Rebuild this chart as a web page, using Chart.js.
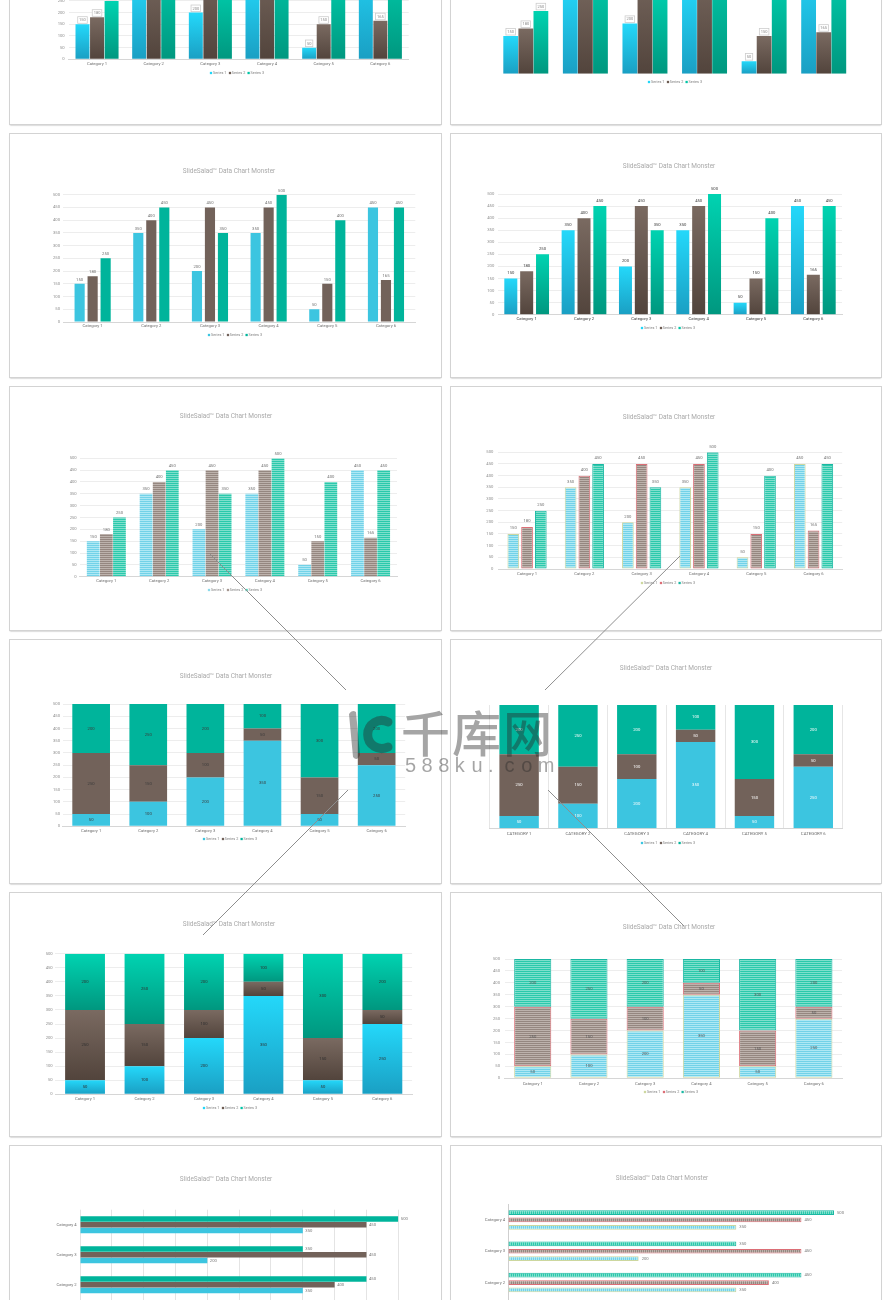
<!DOCTYPE html>
<html><head><meta charset="utf-8">
<script src="https://cdn.jsdelivr.net/npm/chart.js@4.4.1/dist/chart.umd.min.js"></script>
<style>
html,body{margin:0;padding:0;background:#fff}
body{width:892px;height:1300px;overflow:hidden;position:relative;font-family:Roboto,"Liberation Sans",sans-serif}
.panel{position:absolute;background:#fff;box-shadow:0 0 0 1px #d3d3d3,0 1.5px 1.5px rgba(0,0,0,.32)}
.panel canvas{position:absolute;left:0;top:0}
</style></head><body>
<script>
// ---------------- data ----------------
const categories = ['Category 1','Category 2','Category 3','Category 4','Category 5','Category 6'];
const seriesNames = ['Series 1','Series 2','Series 3'];
const series1 = [150, 350, 200, 350, 50, 450];
const series2 = [180, 400, 450, 450, 150, 165];
const series3 = [250, 450, 350, 500, 400, 450];
const stacked1 = [50, 100, 200, 350, 50, 250];
const stacked2 = [250, 150, 100, 50, 150, 50];
const stacked3 = [200, 250, 200, 100, 300, 200];
const hCategories = ['Category 1','Category 2','Category 3','Category 4'];
const hSeries1 = [150, 350, 200, 350];
const hSeries2 = [180, 400, 450, 450];
const hSeries3 = [250, 450, 350, 500];
const valueMin = 0, valueMax = 500, valueStep = 50;
const titleText = 'SlideSalad\u2122 Data Chart Monster';

// ---------------- styles ----------------
const FONT = 'Roboto, "Liberation Sans", sans-serif';
Chart.defaults.font.family = FONT;
const H = 243;
const flatCols = ['#3cc5e0','#72625a','#00b49b'];
const gradCols = [['#24d8fa','#1a9fc3'],['#7a6a61','#52443c'],['#00d3b1','#00977f']];
const stripeCols = [['#72d2e8','#aee8f4'],['#958780','#bdb2ac'],['#2bc9ac','#7fdfcc']];
const borderCols = ['#cdd79f','#dc6e76','#1ab7a2'];
const legFlat = flatCols, legGrad = ['#22d6f8','#6d5c53','#00c4a5'], legStripe = ['#8bd9ea','#a5968f','#4fd4bb'];

function stripe(c1, c2, dir){
  const cv = document.createElement('canvas');
  cv.width = dir==='h' ? 4 : 2; cv.height = dir==='h' ? 2 : 4;
  const x = cv.getContext('2d');
  x.fillStyle = c1; x.fillRect(0,0,cv.width,cv.height);
  x.fillStyle = c2; if(dir==='h') x.fillRect(0,1,4,1); else x.fillRect(1,0,1,4);
  return x.createPattern(cv,'repeat');
}
function vGrad(top, bot, k, data, stacked){
  return (ctx)=>{
    const ch = ctx.chart;
    if(ctx.type!=='data' || !ch.chartArea) return top;
    const i = ctx.dataIndex;
    let s0 = 0;
    if(stacked) for(let j=0;j<k;j++) s0 += data[j][i];
    const s1 = s0 + data[k][i];
    const ys = ch.scales.y;
    const y1 = ys.getPixelForValue(s1), y0 = ys.getPixelForValue(s0);
    if(!isFinite(y1)||!isFinite(y0)||y1===y0) return top;
    const g = ch.ctx.createLinearGradient(0,y1,0,y0);
    g.addColorStop(0,top); g.addColorStop(1,bot);
    return g;
  };
}
function labelPlugin(o){
  return {id:'vl', afterDatasetsDraw(chart){
    const c = chart.ctx; c.save();
    c.font = (o.size||4.2)+'px '+FONT;
    chart.data.datasets.forEach((ds,di)=>{
      chart.getDatasetMeta(di).data.forEach((el,i)=>{
        const t = String(ds.data[i]);
        c.fillStyle = o.color;
        if(o.mode==='top'){ c.textAlign='center'; c.textBaseline='middle'; c.fillText(t, el.x, el.y-o.off); }
        else if(o.mode==='center'){ c.textAlign='center'; c.textBaseline='middle'; c.fillText(t, el.x, (el.y+el.base)/2); }
        else if(o.mode==='end'){ c.textAlign='left'; c.textBaseline='middle'; c.fillText(t, el.x+o.off, el.y); }
        else if(o.mode==='box'){
          const w = c.measureText(t).width+2.8, h = 6.6;
          const bx = el.x-w/2, by = el.y-o.off-h;
          c.fillStyle='#fff'; c.fillRect(bx,by,w,h);
          c.strokeStyle='#cdcdcd'; c.lineWidth=0.8; c.strokeRect(bx,by,w,h);
          c.fillStyle=o.color; c.textAlign='center'; c.textBaseline='middle'; c.fillText(t, el.x, by+h/2+0.2);
        }
      });
    });
    c.restore();
  }};
}
function addText(parent, txt, cx, cy, px, color){
  const d = document.createElement('div');
  d.textContent = txt;
  d.style.cssText = `position:absolute;left:${cx}px;top:${cy}px;font-size:10px;line-height:10px;color:${color};white-space:nowrap;transform:translate(-50%,-50%) scale(${px/10});`;
  parent.appendChild(d);
}
function addLegend(parent, cx, cy, cols){
  const d = document.createElement('div');
  d.style.cssText = `position:absolute;left:${cx}px;top:${cy}px;font-size:10px;line-height:10px;color:#7d7d7d;white-space:nowrap;display:flex;align-items:center;transform:translate(-50%,-50%) scale(0.38);`;
  seriesNames.forEach((n,i)=>{
    const it = document.createElement('span'); it.style.cssText='display:flex;align-items:center;margin:0 3px';
    const m = document.createElement('span'); m.style.cssText=`display:inline-block;width:6px;height:6px;background:${cols[i]};margin-right:2px`;
    it.appendChild(m); it.appendChild(document.createTextNode(n)); d.appendChild(it);
  });
  parent.appendChild(d);
}
function makeChart(s){
  const p = document.createElement('div'); p.className='panel';
  p.style.cssText = `left:${s.x}px;top:${s.y}px;width:${s.w}px;height:${H}px`;
  document.body.appendChild(p);
  const cv = document.createElement('canvas'); cv.width=s.w; cv.height=H; cv.style.width=s.w+'px'; cv.style.height=H+'px';
  p.appendChild(cv);
  if(s.title) addText(p, titleText, s.title[0], s.title[1], 6.5, '#a9a9a9');
  if(s.legend) addLegend(p, s.legend[0], s.legend[1], s.legendCols);
  const horiz = !!s.horizontal;
  const [l,t,r,b] = s.plot;
  const leftShown = s.leftAxis!==false, bottomShown = s.bottomAxis!==false;
  const yW = leftShown ? (horiz ? 40 : 14) : 0, xH = bottomShown ? 10 : 0;
  const padding = {left:l-yW, top:t, right:s.w-r, bottom:H-b-xH};
  const data = s.stacked ? [stacked1,stacked2,stacked3] : (horiz ? [hSeries1,hSeries2,hSeries3] : [series1,series2,series3]);
  const order = horiz ? [2,1,0] : [0,1,2];
  const datasets = order.map(k=>{
    const ds = {label:seriesNames[k], data:data[k], categoryPercentage:s.cp, barPercentage:s.bp, borderWidth:0, borderSkipped:false};
    if(s.fill==='flat') ds.backgroundColor = flatCols[k];
    else if(s.fill==='grad') ds.backgroundColor = vGrad(gradCols[k][0], gradCols[k][1], k, data, !!s.stacked);
    else { ds.backgroundColor = stripe(stripeCols[k][0], stripeCols[k][1], s.fill==='hstripe'?'h':'v'); }
    if(s.bordered){ ds.borderColor = borderCols[k]; ds.borderWidth = 1; }
    return ds;
  });
  const valueAxis = {
    display: horiz ? bottomShown : leftShown,
    min:valueMin, max:valueMax, stacked:!!s.stacked,
    ticks:{stepSize:valueStep, font:{size:4.2}, color:'#8c8c8c', padding:s.valPad||3},
    grid:{display:!!s.valGrid, color:s.gridColor||'#ededed', lineWidth:1, drawTicks:false},
    border:{display:false}
  };
  const catAxis = {
    display: horiz ? leftShown : bottomShown,
    stacked:!!s.stacked, offset:true,
    ticks:{font:{size:s.catSize||4.2}, color:s.catColor||'#6f6f6f', padding:s.catPad||2, autoSkip:false, maxRotation:0,
      callback: function(v){ const lb = this.getLabelForValue(v); return s.upper ? lb.toUpperCase() : lb; }},
    grid:{display:!!s.catGrid, color:'#e6e6e6', drawTicks:false, offset:true},
    border:{display:s.catBorder!==false, color:s.borderColor||'#d6d6d6', width:1}
  };
  let scales;
  if(horiz){
    catAxis.reverse = true;
    if(leftShown) catAxis.afterFit = sc=>{ sc.width = yW; };
    if(bottomShown) valueAxis.afterFit = sc=>{ sc.height = xH; };
    scales = {x:valueAxis, y:catAxis};
  } else {
    if(leftShown) valueAxis.afterFit = sc=>{ sc.width = yW; };
    if(bottomShown) catAxis.afterFit = sc=>{ sc.height = xH; };
    scales = {x:catAxis, y:valueAxis};
  }
  new Chart(cv, {
    type:'bar',
    data:{labels: horiz ? hCategories : categories, datasets},
    options:{
      indexAxis: horiz ? 'y' : 'x',
      responsive:false, animation:false, devicePixelRatio:1,
      layout:{padding},
      plugins:{legend:{display:false}, title:{display:false}, tooltip:{enabled:false}},
      scales
    },
    plugins:[labelPlugin(s.labels)]
  });
}

const LX=10, LW=431, RX=451, RW=430;
const specs = [
  {x:LX,y:-119,w:LW, plot:[58.7,61.6,398.7,178.3], valPad:4, catPad:2.2, cp:0.77, bp:0.96, fill:'grad', valGrid:true,
   labels:{mode:'box',off:1,color:'#8a8a8a',size:4}, legend:[227,191.7], legendCols:legGrad},
  {x:RX,y:-119,w:RW, plot:[45,67.1,402.5,192.7], leftAxis:false, bottomAxis:false, cp:0.76, bp:0.98, fill:'grad',
   labels:{mode:'box',off:1,color:'#8a8a8a',size:4}, legend:[224,201.3], legendCols:legGrad},
  {x:LX,y:134,w:LW, plot:[53.3,60.7,405.3,188], valPad:3.3, catPad:1.8, cp:0.665, bp:0.78, fill:'flat', valGrid:true,
   labels:{mode:'top',off:4,color:'#707070'}, legend:[225,201.3], legendCols:legFlat, title:[219,37.3]},
  {x:RX,y:134,w:RW, plot:[47,60,391,180.7], valPad:3.7, catPad:2.1, catColor:'#3a3a3a', cp:0.83, bp:0.82, fill:'grad', valGrid:true,
   labels:{mode:'top',off:5.3,color:'#3a3a3a'}, legend:[217,194], legendCols:legGrad, title:[218,31.7]},
  {x:LX,y:387,w:LW, plot:[69.9,71.3,387,189.7], valPad:3.2, catPad:1.8, cp:0.745, bp:0.97, fill:'hstripe', valGrid:true,
   labels:{mode:'top',off:4.6,color:'#707070'}, legend:[225,203], legendCols:legStripe, title:[215.7,29]},
  {x:RX,y:387,w:RW, plot:[47.4,65.3,391.2,182], valPad:5, catPad:2.2, cp:0.72, bp:0.85, fill:'hstripe', bordered:true, valGrid:true,
   labels:{mode:'top',off:5.7,color:'#707070'}, legend:[216.7,195.7], legendCols:borderCols, title:[218,29.7]},
  {x:LX,y:640,w:LW, plot:[52.6,64,395.2,186.3], valPad:2.6, catPad:2.2, stacked:true, cp:0.66, bp:1, fill:'flat', valGrid:true,
   labels:{mode:'center',color:'#3b3b3b'}, legend:[220,199.3], legendCols:legFlat, title:[215.7,35.7]},
  {x:RX,y:640,w:RW, plot:[38.7,65,391.7,188.3], leftAxis:false, catGrid:true, catPad:2.8, upper:true, catSize:4.3, catColor:'#6a6a6a',
   stacked:true, cp:0.67, bp:1, fill:'flat', labels:{mode:'center',color:'#ffffff'}, legend:[216.7,203.3], legendCols:legFlat, title:[214.7,28.3]},
  {x:LX,y:893,w:LW, plot:[45.3,60.7,402.1,201.3], valPad:2.6, catPad:2.5, stacked:true, cp:0.67, bp:1, fill:'grad', valGrid:true,
   labels:{mode:'center',color:'#2f2f2f'}, legend:[220,215], legendCols:legGrad, title:[219,31.3]},
  {x:RX,y:893,w:RW, plot:[53.6,66,391,185.3], valPad:4.6, catPad:2.9, stacked:true, cp:0.66, bp:1, fill:'hstripe', bordered:true, valGrid:true,
   labels:{mode:'center',color:'#555555'}, legend:[220,199], legendCols:borderCols, title:[218,34]},
  {x:LX,y:1146,w:LW, horizontal:true, plot:[70,63.7,388.3,183.7], catPad:3.3, valGrid:true, gridColor:'#e4e4e4', catBorder:false,
   cp:0.58, bp:0.95, fill:'flat', labels:{mode:'end',off:2.5,color:'#777777'}, title:[215.7,33]},
  {x:RX,y:1146,w:RW, horizontal:true, plot:[57.4,58.3,383,183.5], catPad:3.4, valGrid:false, catBorder:true, borderColor:'#cfcfcf',
   cp:0.71, bp:0.64, fill:'vstripe', bordered:true, labels:{mode:'end',off:3,color:'#777777'}, title:[211.3,32.3]}
];
specs.forEach(makeChart);
</script>
<svg width="892" height="1300" style="position:absolute;left:0;top:0;pointer-events:none;z-index:5">
  <g stroke="#8e8e8e" stroke-width="1">
    <line x1="210" y1="554" x2="346" y2="690"/>
    <line x1="680" y1="556" x2="545" y2="690"/>
    <line x1="348" y1="790" x2="203" y2="935"/>
    <line x1="548" y1="790" x2="684" y2="926"/>
  </g>
  <g fill="rgba(40,40,40,0.42)">
    <path d="M349 714 Q352 709 356 712 L360 755 Q357 762 353 757 Z"/>
    <path d="M388 722 A14 14 0 1 0 388 747" fill="none" stroke="rgba(40,40,40,0.42)" stroke-width="9" stroke-linecap="round"/>
    <text x="401" y="752" font-family="Noto Sans CJK SC" font-weight="500" font-size="49" letter-spacing="2">千库网</text>
    <text x="405 421.6 438.2 454.8 471.4 488 504.6 521.2 537.8" y="772" font-family="Liberation Sans" font-size="20">588ku.com</text>
  </g>
</svg>
</body></html>
